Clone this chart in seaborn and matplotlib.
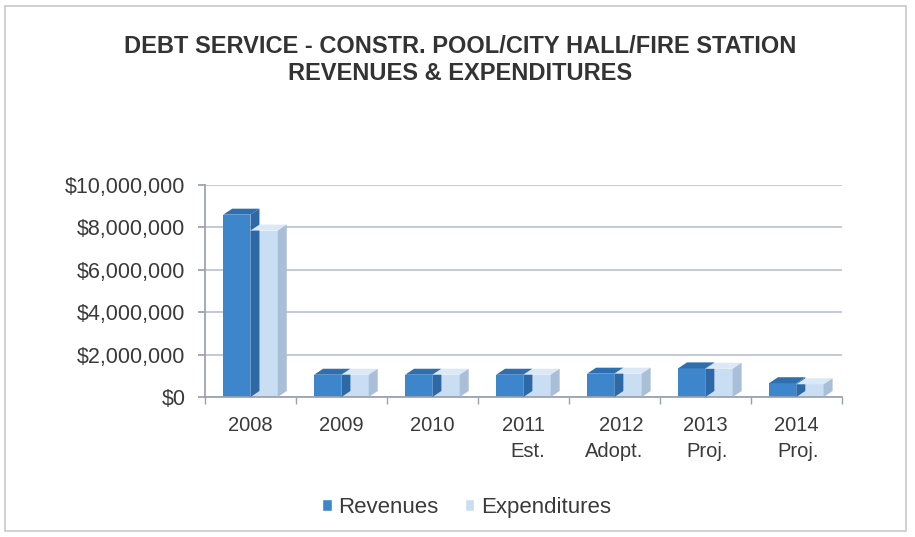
import matplotlib
matplotlib.use("Agg")
import matplotlib.pyplot as plt
from matplotlib.patches import Polygon, Rectangle
from matplotlib.ticker import FuncFormatter, FixedLocator
import seaborn as sns
import pandas as pd

years = ["2008", "2009", "2010", "2011\nEst.", "2012\nAdopt.", "2013\nProj.", "2014\nProj."]
revenues = [8600000, 1050000, 1050000, 1050000, 1100000, 1350000, 650000]
expenditures = [7850000, 1050000, 1050000, 1050000, 1100000, 1330000, 600000]
series = ["Revenues", "Expenditures"]
colors = {"Revenues": "#3d86cb", "Expenditures": "#c9def3"}
top_colors = {"Revenues": "#2f6fae", "Expenditures": "#dbe8f6"}
side_colors = {"Revenues": "#2c69a6", "Expenditures": "#a9bfd8"}

df = pd.DataFrame({
    "Year": years * 2,
    "Series": [series[0]] * len(years) + [series[1]] * len(years),
    "Amount": revenues + expenditures,
})

sns.set_theme(style="white")
plt.rcParams["font.family"] = ["Liberation Sans", "DejaVu Sans"]

DPI = 100
fig = plt.figure(figsize=(9.15, 5.37), dpi=DPI)
fig.patch.set_facecolor("white")
ax = fig.add_axes([0.224, 0.2607, 0.696, 0.3948])

sns.barplot(data=df, x="Year", y="Amount", hue="Series", order=years,
            hue_order=series, palette=colors, width=0.6, gap=0,
            saturation=1, ax=ax, legend=False, edgecolor="none")

ax.set_ylim(0, 10000000)
ax.set_xlim(-0.5, len(years) - 0.5)
ax.yaxis.set_major_locator(FixedLocator(range(0, 10000001, 2000000)))
ax.yaxis.set_major_formatter(FuncFormatter(lambda v, p: f"${v:,.0f}"))
ax.set_xlabel("")
ax.set_ylabel("")

# gridlines
ax.grid(axis="y", color="#b9c0d2", linewidth=1.2)
ax.set_axisbelow(True)
for s in ["top", "right"]:
    ax.spines[s].set_visible(False)
ax.spines["left"].set_color("#9aa0ad")
ax.spines["bottom"].set_color("#9aa0ad")

ax.tick_params(axis="y", which="major", length=5, color="#9aa0ad",
               labelsize=15.5, labelcolor="#3a3a3a", pad=9, left=True)
ax.tick_params(axis="x", which="major", length=0, labelsize=14.5,
               labelcolor="#3a3a3a", pad=14)
ax.set_xticks([i - 0.5 for i in range(len(years) + 1)], minor=True)
ax.tick_params(axis="x", which="minor", length=5, color="#9aa0ad", bottom=True)
for lbl in ax.get_xticklabels():
    lbl.set_multialignment("right")
    lbl.set_linespacing(1.45)

# depth faces on each bar
fig.canvas.draw()
dx, dy = 9, 6
bars = ax.patches
n = len(years)
for i, bar in enumerate(bars):
    name = series[0] if i < n else series[1]
    x0, y0 = bar.get_x(), bar.get_y()
    x1, y1 = x0 + bar.get_width(), y0 + bar.get_height()
    (px0, py0) = ax.transData.transform((x0, y0))
    (px1, py1) = ax.transData.transform((x1, y1))
    top = Polygon([(px0, py1), (px1, py1), (px1 + dx, py1 + dy), (px0 + dx, py1 + dy)],
                  closed=True, transform=None, facecolor=top_colors[name],
                  edgecolor="none", zorder=3)
    side = Polygon([(px1, py0), (px1 + dx, py0 + dy), (px1 + dx, py1 + dy), (px1, py1)],
                   closed=True, transform=None, facecolor=side_colors[name],
                   edgecolor="none", zorder=3)
    fig.add_artist(top)
    fig.add_artist(side)

fig.suptitle("DEBT SERVICE - CONSTR. POOL/CITY HALL/FIRE STATION\nREVENUES & EXPENDITURES",
             x=0.503, y=0.935, fontsize=17, fontweight="bold", color="#333333",
             linespacing=1.2, va="top")

handles = [Rectangle((0, 0), 1, 1, facecolor=colors[s]) for s in series]
fig.legend(handles, series, loc="center", bbox_to_anchor=(0.51, 0.055), ncol=2,
           frameon=False, fontsize=16, handlelength=0.42, handleheight=0.42,
           handletextpad=0.3, columnspacing=1.2, labelcolor="#3a3a3a")

fig.add_artist(Rectangle((0.006, 0.012), 0.984, 0.976, transform=fig.transFigure,
                         fill=False, edgecolor="#c8c8c8", linewidth=1.2))

fig.savefig("out.png", dpi=DPI)
